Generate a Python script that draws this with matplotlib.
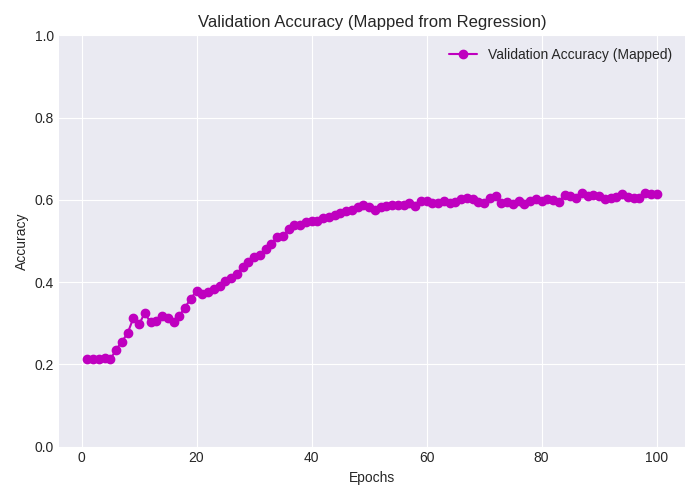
import matplotlib
matplotlib.use("Agg")
import matplotlib.pyplot as plt

epochs = list(range(1, 101))
acc = [.213,.213,.213,.215,.212,.235,.255,.275,.312,.297,
       .325,.302,.305,.317,.312,.302,.318,.338,.36,.378,
       .37,.376,.383,.39,.402,.41,.42,.437,.448,.46,
       .465,.48,.492,.51,.512,.528,.538,.54,.545,.548,
       .548,.555,.558,.562,.567,.574,.575,.583,.588,.582,
       .575,.582,.585,.588,.588,.588,.593,.585,.598,.598,
       .592,.592,.598,.592,.595,.602,.605,.602,.595,.592,
       .605,.61,.593,.595,.59,.598,.59,.598,.602,.598,
       .602,.6,.595,.612,.61,.605,.617,.61,.612,.61,
       .602,.605,.608,.615,.607,.605,.605,.617,.613,.613]

plt.style.use('seaborn-v0_8-darkgrid')
fig, ax = plt.subplots(figsize=(7, 5), dpi=100)
ax.plot(epochs, acc, marker='o', color='m', label='Validation Accuracy (Mapped)')
ax.set_ylim(0, 1)
ax.set_title('Validation Accuracy (Mapped from Regression)')
ax.set_xlabel('Epochs')
ax.set_ylabel('Accuracy')
ax.legend(loc='upper right')
fig.tight_layout()
fig.savefig('out.png')
